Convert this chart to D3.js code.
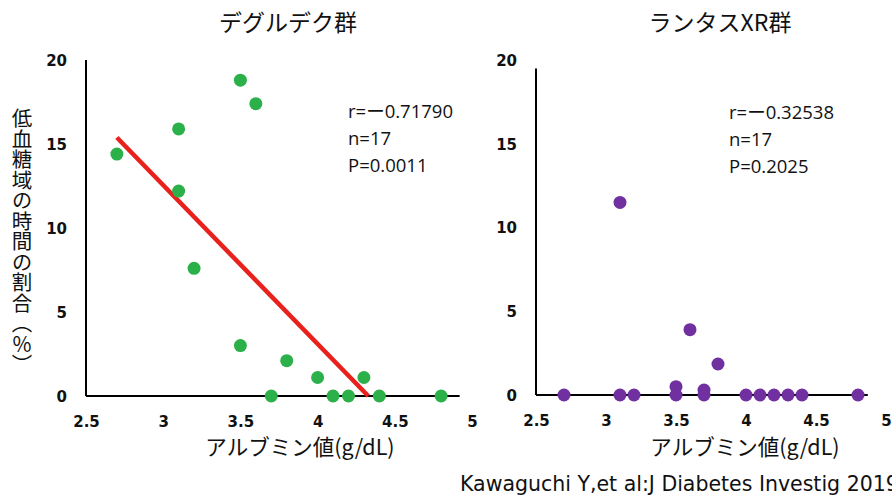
<!DOCTYPE html>
<html>
<head>
<meta charset="utf-8">
<script src="https://cdn.jsdelivr.net/npm/d3@7/dist/d3.min.js"></script>
<style>
  body { margin: 0; background: #fff; }
  svg { display: block; }
</style>
</head>
<body>
<svg id="chart" width="892" height="499"></svg>
<script>

// tick labels
var xTicks = [2.5, 3, 3.5, 4, 4.5, 5];
var yTicks = [0, 5, 10, 15, 20];

// デグルデク群 : albumin (g/dL) vs hypoglycemia time (%)
var degAlb  = [2.7, 3.1, 3.1, 3.5, 3.6, 3.2, 3.5, 3.8, 3.7, 4.0, 4.3, 4.1, 4.2, 4.4, 4.8];
var degHypo = [14.4, 15.9, 12.2, 18.8, 17.4, 7.6, 3.0, 2.1, 0, 1.1, 1.1, 0, 0, 0, 0];
// regression line  y = a + b*x
var degFit = { a: 40.9, b: -9.45, from: 2.7 };
var degStats = ["r=ー0.71790", "n=17", "P=0.0011"];

// ランタスXR群
var glaAlb  = [3.1, 3.6, 3.8, 3.5, 3.7, 2.7, 3.1, 3.2, 3.5, 3.7, 4.0, 4.1, 4.2, 4.3, 4.4, 4.8];
var glaHypo = [11.5, 3.9, 1.85, 0.5, 0.3, 0, 0, 0, 0, 0, 0, 0, 0, 0, 0, 0];
var glaStats = ["r=ー0.32538", "n=17", "P=0.2025"];

var svg = d3.select("#chart");

function drawPanel(opt) {
    var x = d3.scaleLinear().domain([2.5, 5]).range(opt.xr);
    var y = d3.scaleLinear().domain([0, 20]).range(opt.yr);
    var g = svg.append("g");

    // axis labels (no tick marks, domain drawn by hand below)
    var ax = g.append("g")
        .attr("transform", "translate(0," + y(0) + ")")
        .call(d3.axisBottom(x).tickValues(xTicks).tickSize(0).tickPadding(20).tickFormat(d => d));
    var ay = g.append("g")
        .attr("transform", "translate(" + x(2.5) + ",0)")
        .call(d3.axisLeft(y).tickValues(yTicks).tickSize(0).tickPadding(19).tickFormat(d => d));
    g.selectAll(".domain").remove();
    g.selectAll(".tick text")
        .style("font-family", "'DejaVu Sans', Verdana, sans-serif")
        .style("font-weight", "bold")
        .style("font-size", "15px")
        .attr("fill", "#111");
    ay.selectAll(".tick text").attr("dy", "0.36em");

    g.append("line")
        .attr("x1", x(2.5)).attr("x2", x(opt.xEnd))
        .attr("y1", y(0)).attr("y2", y(0))
        .attr("stroke", "#000").attr("stroke-width", 2);
    g.append("line")
        .attr("x1", x(2.5)).attr("x2", x(2.5))
        .attr("y1", y(0)).attr("y2", y(opt.yTop))
        .attr("stroke", "#000").attr("stroke-width", 2);

    if (opt.fit) {
        var f = opt.fit;
        var xEnd = -f.a / f.b;
        g.append("line")
            .attr("x1", x(f.from)).attr("y1", y(f.a + f.b * f.from))
            .attr("x2", x(xEnd)).attr("y2", y(0))
            .attr("stroke", "#e8211d").attr("stroke-width", 4.5);
    }

    g.selectAll("circle.pt")
        .data(opt.xs.map((v, i) => [v, opt.ys[i]]))
        .enter().append("circle")
        .attr("class", "pt")
        .attr("cx", d => x(d[0]))
        .attr("cy", d => y(d[1]))
        .attr("r", 6.5)
        .attr("fill", opt.color);

    g.selectAll("text.stat")
        .data(opt.stats)
        .enter().append("text")
        .attr("class", "stat")
        .attr("x", opt.statX)
        .attr("y", (d, i) => opt.statY + i * 27)
        .style("font-family", "'Open Sans', 'Noto Sans CJK JP', sans-serif")
        .style("font-size", "18.5px")
        .attr("fill", "#111")
        .text(d => d);

    g.append("text")
        .attr("x", opt.titleX).attr("y", 31)
        .attr("text-anchor", "middle")
        .style("font-family", "'Noto Sans CJK JP', sans-serif")
        .style("font-size", "23px")
        .attr("fill", "#111")
        .text(opt.title);

    g.append("text")
        .attr("x", opt.labelX).attr("y", 455)
        .attr("text-anchor", "middle")
        .style("font-family", "'Noto Sans CJK JP', sans-serif")
        .style("font-size", "21.5px")
        .attr("fill", "#111")
        .text("アルブミン値(g/dL)");
}

drawPanel({
    xr: [86, 472], yr: [396, 60], xEnd: 4.92, yTop: 20,
    xs: degAlb, ys: degHypo, color: "#2bb04a", fit: degFit,
    stats: degStats, statX: 348, statY: 118,
    title: "デグルデク群", titleX: 288, labelX: 300
});

drawPanel({
    xr: [536, 886], yr: [395, 60], xEnd: 4.87, yTop: 19.5,
    xs: glaAlb, ys: glaHypo, color: "#7030a0", fit: null,
    stats: glaStats, statX: 729, statY: 119,
    title: "ランタスXR群", titleX: 720, labelX: 745
});

// y axis title (vertical)
svg.append("text")
    .attr("x", 22).attr("y", 108)
    .style("font-family", "'Noto Sans CJK JP', sans-serif")
    .style("font-size", "20.5px")
    .attr("fill", "#111")
    .style("writing-mode", "vertical-rl")
    .style("text-orientation", "upright")
    .text("低血糖域の時間の割合（％）");

// citation
svg.append("text")
    .attr("x", 460).attr("y", 491)
    .style("font-family", "'DejaVu Sans', sans-serif")
    .style("font-size", "20.5px")
    .attr("fill", "#111")
    .text("Kawaguchi Y,et al:J Diabetes Investig 2019");

</script>
</body>
</html>
